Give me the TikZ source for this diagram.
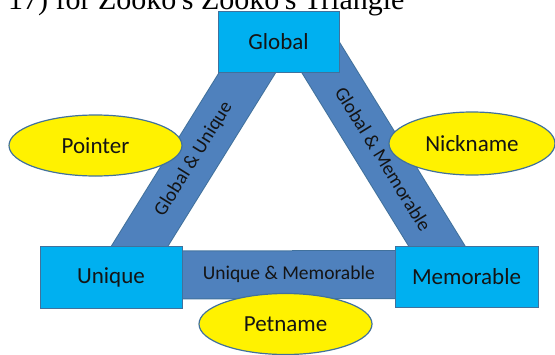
\documentclass[tikz,border=0pt]{standalone}
\usepackage{fontspec}
\setmainfont{Carlito}
\newfontfamily\headfont{Liberation Serif}
\usetikzlibrary{shapes.geometric,backgrounds}

\definecolor{boxcyan}{HTML}{00B0F0}
\definecolor{barblue}{HTML}{4F81BD}
\definecolor{edgeblue}{HTML}{41719C}
\definecolor{inkgray}{HTML}{141414}

\begin{document}
\begin{tikzpicture}[x=1pt,y=-1pt]

        \useasboundingbox (0,0) rectangle (555,354);

        % caption line, cut off at the top
        \node[anchor=base west, inner sep=0, font=\headfont\fontsize{30}{32}\selectfont] (head) at (8,9.5) {17) for Zooko's Zooko's Triangle};

        \begin{scope}[every node/.style={rectangle, draw=edgeblue, fill=boxcyan, line width=1pt, text=inkgray, font=\fontsize{23}{27}\selectfont}]
          \node[minimum width=121pt, minimum height=61pt] (global)    at (278.5,41.5) {Global};
          \node[minimum width=142pt, minimum height=62pt] (unique)    at (111,277)    {Unique};
          \node[minimum width=143pt, minimum height=61pt] (memorable) at (466.5,276.5) {Memorable};
        \end{scope}

        \begin{scope}[on background layer, every node/.style={text=inkgray, font=\fontsize{19.5}{22}\selectfont}]

          \begin{scope}[every edge/.style={draw=edgeblue, line width=1pt, double=barblue, double distance=47pt}]
            \path ([xshift=-18pt,yshift=21pt]global.south) edge node[sloped] {Global \& Unique} ([xshift=16pt,yshift=-21pt]unique.north);
            \path ([xshift=38.5pt,yshift=21pt]global.south) edge node[sloped] {Global \& Memorable} ([xshift=-17pt,yshift=-21pt]memorable.north);
            \path ([yshift=2pt]unique.center) edge node {Unique \& Memorable} ([yshift=2pt]memorable.center);
          \end{scope}
        \end{scope}

        \begin{scope}[every node/.style={ellipse, draw=edgeblue, fill=yellow, line width=1.2pt, inner sep=0, text=inkgray, font=\fontsize{23}{27}\selectfont}]
          \node[minimum width=173pt, minimum height=61pt] (pointer)  at (95.5,145.5) {Pointer};
          \node[minimum width=166pt, minimum height=63pt] (nickname) at (472,143.5)  {Nickname};
          \node[minimum width=173pt, minimum height=61pt] (petname)  at (285.5,324)  {Petname};
        \end{scope}

      \end{tikzpicture}
\end{document}
